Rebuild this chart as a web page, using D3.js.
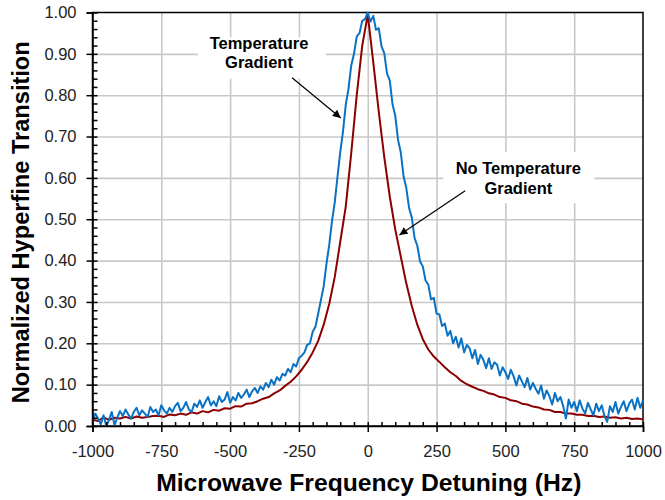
<!DOCTYPE html>
<html>
<head>
<meta charset="utf-8">
<script src="https://cdn.jsdelivr.net/npm/d3@7"></script>
<style>
  body { margin: 0; background: #fff; }
  svg { display: block; font-family: "Liberation Sans", Arial, sans-serif; }
</style>
</head>
<body>
<div id="chart"></div>
<script>
// sweep: -1000 .. 1000 Hz
const startHz = -1000;
const blueStep = 10;
const redStep = 20;

// with temperature gradient (blue), every 10 Hz
const blueValues = [
  0.012, 0.030, 0.018, 0.004, 0.026, 0.000, 0.015, 0.034, 0.002, 0.020,
  0.036, 0.024, 0.040, 0.028, 0.018, 0.034, 0.044, 0.026, 0.038, 0.030,
  0.022, 0.046, 0.034, 0.040, 0.026, 0.050, 0.038, 0.030, 0.044, 0.034,
  0.048, 0.056, 0.036, 0.044, 0.058, 0.040, 0.034, 0.054, 0.046, 0.062,
  0.044, 0.058, 0.070, 0.050, 0.060, 0.048, 0.072, 0.058, 0.064, 0.082,
  0.056, 0.070, 0.062, 0.080, 0.068, 0.076, 0.088, 0.070, 0.084, 0.092,
  0.080, 0.096, 0.088, 0.104, 0.094, 0.112, 0.100, 0.118, 0.110, 0.126,
  0.122, 0.138, 0.130, 0.150, 0.144, 0.164, 0.170, 0.178, 0.196, 0.200,
  0.228, 0.240, 0.272, 0.305, 0.338, 0.392, 0.438, 0.495, 0.540, 0.602,
  0.662, 0.712, 0.776, 0.816, 0.872, 0.900, 0.942, 0.950, 0.980, 0.984,
  1.000, 0.978, 0.992, 0.958, 0.962, 0.918, 0.902, 0.852, 0.836, 0.778,
  0.750, 0.692, 0.662, 0.604, 0.576, 0.528, 0.504, 0.455, 0.436, 0.398,
  0.386, 0.352, 0.342, 0.306, 0.310, 0.272, 0.270, 0.242, 0.248, 0.218,
  0.230, 0.200, 0.216, 0.190, 0.212, 0.178, 0.196, 0.188, 0.164, 0.184,
  0.150, 0.172, 0.160, 0.140, 0.164, 0.138, 0.154, 0.148, 0.122, 0.142,
  0.130, 0.114, 0.136, 0.120, 0.098, 0.122, 0.108, 0.094, 0.116, 0.088,
  0.104, 0.090, 0.078, 0.098, 0.066, 0.086, 0.072, 0.052, 0.080, 0.060,
  0.070, 0.048, 0.018, 0.064, 0.044, 0.058, 0.036, 0.062, 0.042, 0.030,
  0.056, 0.040, 0.026, 0.054, 0.036, 0.050, 0.024, 0.010, 0.048, 0.034,
  0.058, 0.030, 0.046, 0.060, 0.036, 0.054, 0.064, 0.040, 0.068, 0.044,
  0.062
];

// no temperature gradient (dark red), every 20 Hz
const redValues = [
  0.015, 0.012, 0.021, 0.015, 0.020, 0.018, 0.022, 0.018, 0.023, 0.020,
  0.022, 0.024, 0.025, 0.022, 0.028, 0.026, 0.030, 0.027, 0.033, 0.030,
  0.036, 0.033, 0.039, 0.037, 0.043, 0.042, 0.048, 0.047, 0.054, 0.055,
  0.060, 0.066, 0.070, 0.079, 0.086, 0.097, 0.107, 0.120, 0.136, 0.155,
  0.178, 0.206, 0.245, 0.295, 0.360, 0.445, 0.530, 0.660, 0.800, 0.920,
  0.995, 0.880, 0.760, 0.650, 0.555, 0.475, 0.410, 0.345, 0.290, 0.245,
  0.210, 0.185, 0.168, 0.155, 0.142, 0.130, 0.121, 0.109, 0.101, 0.095,
  0.089, 0.085, 0.079, 0.076, 0.070, 0.068, 0.062, 0.060, 0.054, 0.052,
  0.047, 0.045, 0.040, 0.039, 0.034, 0.034, 0.030, 0.030, 0.027, 0.027,
  0.024, 0.025, 0.022, 0.023, 0.020, 0.021, 0.018, 0.020, 0.017, 0.018,
  0.016
];

const xTicks = [-1000, -750, -500, -250, 0, 250, 500, 750, 1000];
const yTicks = [0, 0.1, 0.2, 0.3, 0.4, 0.5, 0.6, 0.7, 0.8, 0.9, 1.0];

const xTitle = "Microwave Frequency Detuning (Hz)";
const yTitle = "Normalized Hyperfine Transition";
const notes = [
  { lines: ["Temperature", "Gradient"], at: [-395, 0.912], tip: [-98, 0.745], from: [-275, 0.842],
    box: { x0: -617, x1: -152, y0: 0.94, y1: 0.84 } },
  { lines: ["No Temperature", "Gradient"], at: [547, 0.609], tip: [115, 0.462], from: [354, 0.569],
    box: { x0: 274, x1: 823, y0: 0.663, y1: 0.539 } }
];

const width = 665, height = 500;
const margin = { top: 12.5, right: 22, bottom: 74, left: 92.5 };
const w = width - margin.left - margin.right;
const h = height - margin.top - margin.bottom;

const svg = d3.select("#chart").append("svg")
  .attr("width", width).attr("height", height);

const g = svg.append("g")
  .attr("transform", `translate(${margin.left},${margin.top})`);

const x = d3.scaleLinear().domain([-1000, 1000]).range([0, w]);
const y = d3.scaleLinear().domain([0, 1]).range([h, 0]);

// grid
const grid = g.append("g");
grid.append("g")
  .call(d3.axisBottom(x).tickValues(xTicks.slice(1, -1)).tickSize(h).tickFormat(""));
grid.append("g")
  .call(d3.axisLeft(y).tickValues(yTicks.slice(1, -1)).tickSize(-w).tickFormat(""));
grid.selectAll(".domain").remove();
grid.selectAll("line").attr("stroke", "#c8c8c8").attr("stroke-width", 1.6);

// white label boxes over the grid
g.selectAll(".box").data(notes.map(n => n.box)).join("rect")
  .attr("x", d => x(d.x0)).attr("y", d => y(d.y0))
  .attr("width", d => x(d.x1) - x(d.x0)).attr("height", d => y(d.y1) - y(d.y0))
  .attr("fill", "#fff");

// frame
g.append("rect").attr("width", w).attr("height", h)
  .attr("fill", "none").attr("stroke", "#000").attr("stroke-width", 1.5);

// curves
const line = d3.line().x(d => x(d[0])).y(d => y(d[1]));
const redPts = redValues.map((v, i) => [startHz + i * redStep, v]);
const bluePts = blueValues.map((v, i) => [startHz + i * blueStep, v]);

g.append("path").datum(redPts).attr("d", line)
  .attr("fill", "none").attr("stroke", "#8b0000").attr("stroke-width", 2)
  .attr("stroke-linejoin", "round");
g.append("path").datum(bluePts).attr("d", line)
  .attr("fill", "none").attr("stroke", "#0a72c4").attr("stroke-width", 2)
  .attr("stroke-linejoin", "round");

// axes
const axes = g.append("g");
const fmtX = d => String(d);
const xAxis = axes.append("g").attr("transform", `translate(0,${h})`);
xAxis.call(d3.axisBottom(x).tickValues(xTicks).tickSize(6).tickPadding(13).tickFormat(fmtX));
xAxis.append("g").call(d3.axisBottom(x).tickValues(d3.range(-1000, 1001, 50)).tickSize(-4).tickFormat(""))
  .call(a => a.select(".domain").remove());

const yAxis = axes.append("g");
yAxis.call(d3.axisLeft(y).tickValues(yTicks).tickSize(6).tickPadding(10).tickFormat(d3.format(".2f")));
yAxis.append("g").call(d3.axisLeft(y).tickValues(d3.range(0, 51).map(i => i / 50)).tickSize(-5).tickFormat(""))
  .call(a => a.select(".domain").remove());

axes.selectAll(".domain, .tick line").attr("stroke", "#000").attr("stroke-width", 1.5);
axes.selectAll(".tick text").attr("font-size", 16.5).attr("fill", "#222")
  .attr("font-family", "Liberation Sans, Arial, sans-serif");

// titles
svg.append("text")
  .attr("x", margin.left + w / 2 + 1).attr("y", 491)
  .attr("text-anchor", "middle").attr("font-size", 24.7).attr("font-weight", "bold")
  .text(xTitle);
svg.append("text")
  .attr("transform", `translate(29,${margin.top + h / 2 + 3}) rotate(-90)`)
  .attr("text-anchor", "middle").attr("font-size", 23.6).attr("font-weight", "bold")
  .text(yTitle);

// annotations
svg.append("defs").append("marker")
  .attr("id", "head").attr("viewBox", "0 0 10 10")
  .attr("refX", 10).attr("refY", 5)
  .attr("markerWidth", 11).attr("markerHeight", 8)
  .attr("markerUnits", "userSpaceOnUse").attr("orient", "auto")
  .append("path").attr("d", "M0,0 L10,5 L0,10 z").attr("fill", "#000");

notes.forEach(n => {
  const t = g.append("text")
    .attr("x", x(n.at[0])).attr("y", y(n.at[1]))
    .attr("text-anchor", "middle").attr("font-size", 16.5).attr("font-weight", "bold");
  n.lines.forEach((s, i) => t.append("tspan").attr("x", x(n.at[0])).attr("dy", i ? 19.5 : 0).text(s));
  g.append("line")
    .attr("x1", x(n.from[0])).attr("y1", y(n.from[1]))
    .attr("x2", x(n.tip[0])).attr("y2", y(n.tip[1]))
    .attr("stroke", "#000").attr("stroke-width", 1.2)
    .attr("marker-end", "url(#head)");
});
</script>
</body>
</html>
